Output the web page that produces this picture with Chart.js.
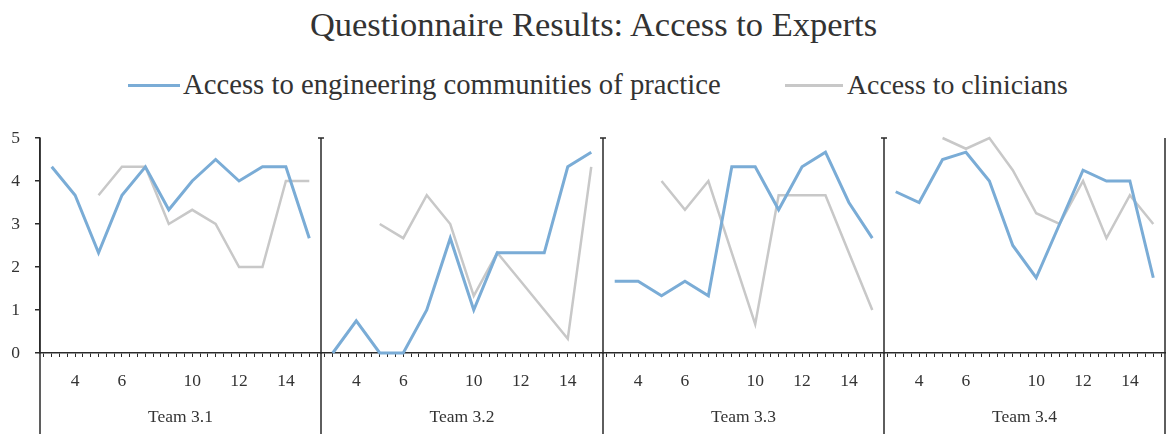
<!DOCTYPE html>
<html>
<head>
<meta charset="utf-8">
<script src="https://cdn.jsdelivr.net/npm/chart.js@4.4.1/dist/chart.umd.min.js"></script>
<style>
  html, body { margin: 0; padding: 0; background: #ffffff; }
  body { width: 1167px; height: 434px; position: relative; overflow: hidden; font-family: 'Liberation Serif', serif; color: #333; }
  #title { position: absolute; left: 10px; width: 1167px; top: 7px; text-align: center; font-size: 34.5px; line-height: 1; white-space: nowrap; }
  .swatch { position: absolute; height: 3px; top: 84px; }
  .legend-text { position: absolute; top: 70px; font-size: 28.7px; line-height: 1; white-space: nowrap; }
  canvas { position: absolute; top: 0; }
</style>
</head>
<body>
<div id="title">Questionnaire Results: Access to Experts</div>
<div class="swatch" style="left:128px;width:52px;background:rgb(122,172,214)"></div>
<div class="legend-text" style="left:183px">Access to engineering communities of practice</div>
<div class="swatch" style="left:785px;width:58px;background:rgb(200,200,200)"></div>
<div class="legend-text" style="left:847px;font-size:27.8px;top:70.5px">Access to clinicians</div>

<canvas id="p1"></canvas>
<canvas id="p2"></canvas>
<canvas id="p3"></canvas>
<canvas id="p4"></canvas>

<script>
// Tick labels along each team's horizontal axis (one slot per respondent)
const xTickLabels = ['', '4', '', '6', '', '', '10', '', '12', '', '14', ''];
const yTicks = [0, 1, 2, 3, 4, 5];
const teams = ['Team 3.1', 'Team 3.2', 'Team 3.3', 'Team 3.4'];
const seriesNames = ['Access to engineering communities of practice', 'Access to clinicians'];

// Average scores per respondent slot
const engineering31 = [4.33, 3.67, 2.33, 3.67, 4.33, 3.33, 4.0, 4.5, 4.0, 4.33, 4.33, 2.67];
const clinicians31  = [null, null, 3.67, 4.33, 4.33, 3.0, 3.33, 3.0, 2.0, 2.0, 4.0, 4.0];
const engineering32 = [0, 0.75, 0, 0, 1.0, 2.67, 1.0, 2.33, 2.33, 2.33, 4.33, 4.67];
const clinicians32  = [null, null, 3.0, 2.67, 3.67, 3.0, 1.33, 2.33, 1.67, 1.0, 0.33, 4.33];
const engineering33 = [1.67, 1.67, 1.33, 1.67, 1.33, 4.33, 4.33, 3.33, 4.33, 4.67, 3.5, 2.67];
const clinicians33  = [null, null, 4.0, 3.33, 4.0, 2.33, 0.67, 3.67, 3.67, 3.67, 2.33, 1.0];
const engineering34 = [3.75, 3.5, 4.5, 4.67, 4.0, 2.5, 1.75, 3.0, 4.25, 4.0, 4.0, 1.75];
const clinicians34  = [null, null, 5.0, 4.75, 5.0, 4.25, 3.25, 3.0, 4.0, 2.67, 3.67, 3.0];

const engineering = [engineering31, engineering32, engineering33, engineering34];
const clinicians = [clinicians31, clinicians32, clinicians33, clinicians34];

const BLUE = 'rgb(122,172,214)';
const GREY = 'rgb(200,200,200)';
const INK = '#2a2a2a';
const TEXT = '#333333';
const FONT = "'Liberation Serif', serif";

// Plot-area edges of the four panels
const panelEdges = [[40, 321], [321, 603], [603, 884], [884, 1165]];
const PAGE_H = 434;
const PLOT_TOP = 138;
const AXIS_BAND = 81;

const toPoints = arr => arr.map((y, i) => ({ x: i, y }));

// Vertical separators running from the top of each panel to the bottom edge
const separators = {
  id: 'separators',
  afterDraw(chart, args, opts) {
    const { ctx, chartArea } = chart;
    ctx.save();
    ctx.strokeStyle = INK;
    ctx.lineWidth = 1.5;
    ctx.beginPath();
    ctx.moveTo(chartArea.left, chartArea.top);
    ctx.lineTo(chartArea.left, chart.height);
    if (opts.cap) {
      ctx.moveTo(chartArea.left - 3, chartArea.top);
      ctx.lineTo(chartArea.left + 3, chartArea.top);
    }
    if (opts.closeRight) {
      ctx.moveTo(chartArea.right, chartArea.top);
      ctx.lineTo(chartArea.right, chart.height);
    }
    ctx.stroke();
    ctx.restore();
  }
};

function buildPanel(k) {
  const [L, R] = panelEdges[k];
  const first = k === 0;
  const padL = first ? 0 : 5;
  const padR = 3;
  const canvas = document.getElementById('p' + (k + 1));
  const left = first ? 0 : L - padL;
  const width = R + padR - left;
  canvas.width = width;
  canvas.height = PAGE_H;
  canvas.style.left = left + 'px';
  canvas.style.width = width + 'px';
  canvas.style.height = PAGE_H + 'px';

  return new Chart(canvas, {
    type: 'line',
    data: {
      datasets: [
        {
          label: seriesNames[0],
          data: toPoints(engineering[k]),
          borderColor: BLUE,
          borderWidth: 3,
          pointRadius: 0,
          tension: 0,
          clip: false
        },
        {
          label: seriesNames[1],
          data: toPoints(clinicians[k]),
          borderColor: GREY,
          borderWidth: 2.5,
          pointRadius: 0,
          tension: 0,
          clip: false
        }
      ]
    },
    options: {
      responsive: false,
      animation: false,
      devicePixelRatio: 1,
      layout: { padding: { left: padL, right: padR, top: PLOT_TOP, bottom: 0 } },
      plugins: {
        legend: { display: false },
        tooltip: { enabled: false },
        separators: { cap: !first, closeRight: k === 3 }
      },
      scales: {
        x: {
          type: 'linear',
          min: -0.5,
          max: xTickLabels.length - 0.5,
          afterFit: s => {
            s.height = AXIS_BAND;
            s.paddingLeft = 0;
            s.paddingRight = 0;
          },
          afterBuildTicks: s => {
            const ticks = [];
            for (let j = -1; j <= (xTickLabels.length - 1) * 3 + 1; j++) ticks.push({ value: j / 3 });
            s.ticks = ticks;
          },
          ticks: {
            autoSkip: false,
            maxRotation: 0,
            padding: 14,
            color: TEXT,
            font: { family: FONT, size: 17.5 },
            callback: v => {
              const i = Math.round(v);
              return Math.abs(v - i) < 1e-6 ? (xTickLabels[i] || '') : '';
            }
          },
          grid: { drawOnChartArea: false, drawTicks: true, tickLength: 4, color: INK, lineWidth: 1 },
          border: { display: true, color: INK, width: 1.5 },
          title: {
            display: true,
            text: teams[k],
            color: TEXT,
            font: { family: FONT, size: 17.5 },
            padding: { top: 0, bottom: 6 }
          }
        },
        y: {
          display: first,
          min: 0,
          max: 5,
          afterFit: s => {
            s.width = first ? 40 : 0;
            s.paddingTop = 0;
            s.paddingBottom = 0;
          },
          afterBuildTicks: s => { s.ticks = yTicks.map(v => ({ value: v })); },
          ticks: { padding: 15, color: TEXT, font: { family: FONT, size: 17.5 } },
          grid: { drawOnChartArea: false, drawTicks: true, tickLength: 5, color: INK, lineWidth: 1.5 },
          border: { display: true, color: INK, width: 1.5 }
        }
      }
    },
    plugins: [separators]
  });
}

teams.forEach((t, k) => buildPanel(k));
</script>
</body>
</html>
